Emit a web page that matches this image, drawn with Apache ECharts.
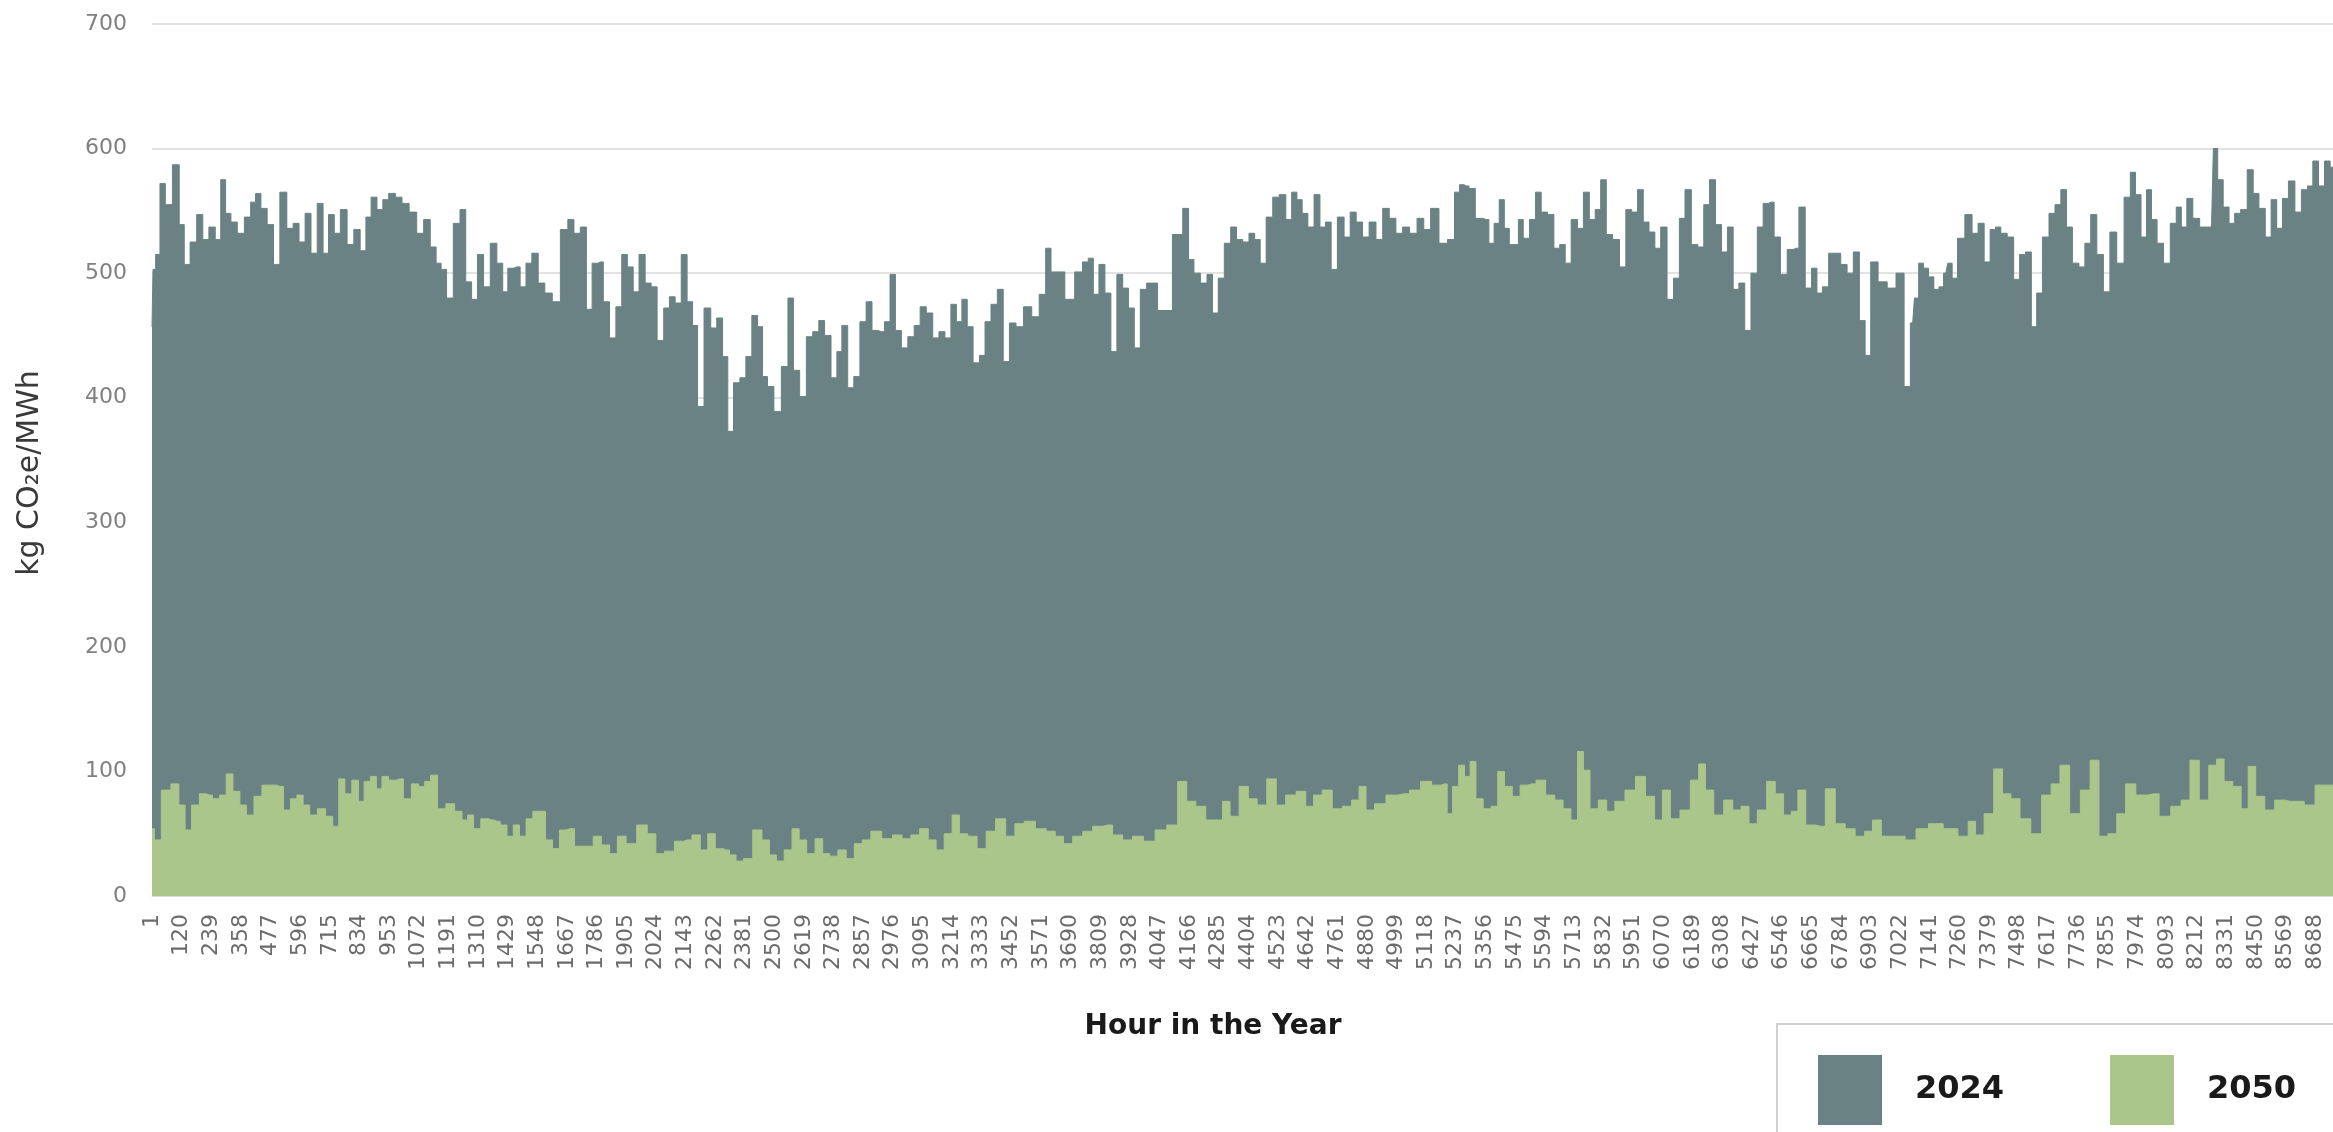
<!DOCTYPE html>
<html>
<head>
<meta charset="utf-8">
<script src="https://cdn.jsdelivr.net/npm/echarts@6/dist/echarts.min.js"></script>
<style>
  html, body { margin: 0; padding: 0; background: #ffffff; }
  #chart { width: 2333px; height: 1132px; }
</style>
</head>
<body>
<div id="chart"></div>
<script>
// Hour of the year (0-based) and emission intensity, kg CO2e/MWh
const hours2024 = [
  0,8,21,43,64,100,119,140,166,193, 215,242,266,286,305,329,356,386,406,426,
  449,476,500,527,556,578,603,627,650,677, 697,721,743,770,797,824,848,870,890,917,
  937,964,991,1017,1048,1078,1104,1131,1151,1171, 1195,1225,1249,1271,1296,1318,1345,1372,1398,1419,
  1439,1465,1492,1512,1539,1563,1592,1623,1657,1683, 1706,1734,
  1755,1780,1801,1824,1851,1875,1898,1920,1945,1967, 1994,2015,2042,2068,2088,2114,2137,2161,2181,2201,
  2233,2255,2281,2302,2323,2348,2374,2396,2422,2442, 2462,2482,2513,2542,2566,2586,2616,2640,2667,2689,
  2713,2741,2760,2781,2807,2830,2856,2880,2903,2929, 2954,2974,2997,3022,3049,3073,3097,3122,3149,3172,
  3197,3220,3241,3264,3284,3311,3335,3356,3383,3407, 3430,3457,3483,
  3517,3549,3577,3601,3620,3645,3687,3724,3750,3770, 3791,3815,3839,3863,3887,3910,3933,3957,3981,4008,
  4069,4127,4152,4174,4195,4226,4248,4270,4294,4319, 4345,4366,4394,4417,4440,4461,4488,4514,4540,4567,
  4587,4609,4629,4655,4679,4702,4724,4747,4774,4801, 4823,4849,4874,4902,4929,4956,4982,5009,5036,5065,
  5096,5119,5151,5186,5220,5242,
  5260,5278,5300,5329,5359,5379,5401,5420,5442,5460, 5479,5496,5518,5546,5567,5591,5618,5642,5665,5686,
  5713,5737,5760,5785,5807,5829,5852,5880,5907,5931, 5954,5978,6000,6024,6047,6071,6098,6123,6145,6168,
  6196,6220,6244,6266,6292,6315,6339,6361,6385,6408, 6435,6459,6482,6502,6527,6553,6581,6602,6626,6653,
  6677,6696,6721,6746,6769,6795,6820,6845,6869,6891, 6914,6950,6987,
  7021,7052,7071,7085,7105,7124,7145,7167,7186,7204, 7220,7239,7263,7298,7321,7346,7370,7394,7413,7437,
  7464,7489,7512,7536,7559,7579,7605,7632,7653,7679, 7699,7726,7751,7774,7798,7823,7851,7875,7906,7934,
  7956,7976,8000,8020,8040,8065,8092,8119,8140,8160, 8184,8208,8239,8271,8286,8306,8330,8353,8375,8401,
  8428,8449,8474,8500,8521,8545,8567,8593,8619,8645, 8668,8688,8714,8736,8759
];
const kg2024 = [
  457,503,515,572,555,587,539,507,525,547, 527,537,527,575,548,541,532,545,557,564,
  552,539,507,565,536,540,525,548,516,556, 516,547,532,551,523,535,518,545,561,551,
  559,564,561,556,549,532,543,521,508,503, 480,540,551,493,479,515,489,524,508,485,
  504,505,489,508,516,492,484,477,535,543, 532,537,
  471,508,509,477,448,473,515,505,485,515, 492,489,446,472,481,476,515,477,458,393,
  472,456,464,433,373,412,416,433,466,457, 417,409,389,425,480,422,401,449,453,462,
  450,416,437,458,408,417,461,477,454,453, 461,499,454,440,449,458,473,468,448,453,
  448,475,461,479,457,428,434,461,475,487, 429,460,457,
  473,465,483,520,501,501,479,501,509,512, 483,507,484,437,499,488,472,440,487,492,
  470,531,552,511,500,492,499,468,496,524, 537,527,525,532,527,508,545,561,563,543,
  565,559,548,537,563,537,541,503,545,529, 549,541,529,541,527,552,544,532,537,532,
  544,535,552,524,527,565,
  571,570,568,544,543,524,540,559,536,523, 523,543,528,543,565,549,547,520,523,508,
  543,536,565,543,551,575,531,527,505,551, 549,567,541,533,520,537,479,496,544,567,
  523,521,555,575,539,517,537,487,492,454, 500,537,556,557,529,499,519,520,553,488,
  504,484,489,516,516,507,500,517,462,434, 509,493,488,
  500,409,460,480,508,504,497,487,489,500, 508,496,528,547,532,540,509,535,537,532,
  529,495,515,517,457,484,529,548,555,567, 537,508,505,524,547,515,485,533,508,561,
  581,563,529,567,543,524,508,540,553,537, 560,544,537,537,600,575,553,540,548,551,
  583,564,552,529,559,536,560,574,549,567, 570,590,570,590,585
];

const hours2050 = [
  0,19,56,96,120,146,172,209,229,257, 286,310,340,366,393,426,457,487,513,543,
  570,594,620,647,681,714,738,762,787,818, 840,864,890,912,935,965,995,1024,1059,1083,
  1107,1131,1162,1198,1233,1257,1278,1305,1336,1365, 1385,1412,1439,1463,1489,1516,1543,1567,1594,1623,
  1650,1677,1717,
  1757,1787,1822,1854,1884,1924,1969,2009,2038,2078, 2118,2152,2185,2219,2245,2279,2306,2332,2359,2392,
  2433,2466,2493,2522,2556,2585,2613,2646,2680,2707, 2736,2773,2803,2838,2867,2907,2954,2994,3030,3065,
  3101,3134,3164,3199,3228,3257,3295,3332,3368,3408, 3449,3482,
  3524,3571,3611,3644,3677,3718,3758,3798,3838,3878, 3918,3958,4005,4052,4099,4139,4172,4212,4252,4286,
  4313,4346,4386,4420,4457,4497,4533,4573,4617,4650, 4680,4720,4760,4801,4834,4861,4890,4930,4981,5028,
  5072,5117,5161,5192,5211,5235,
  5260,5282,5305,5329,5363,5393,5416,5447,5479,5510, 5540,5577,5617,5650,5684,5713,5737,5760,5790,5827,
  5857,5893,5938,5978,6018,6051,6081,6115,6158,6198, 6225,6252,6292,6332,6365,6399,6428,6466,6503,6535,
  6570,6597,6623,6660,6700,6740,6780,6820,6860,6896, 6923,6967,
  7021,7061,7108,7161,7226,7279,7309,7338,7378,7415, 7449,7482,7522,7569,7609,7645,7680,7723,7766,7801,
  7837,7873,7908,7944,7990,8037,8084,8131,8167,8202, 8242,8278,8305,8338,8375,8405,8432,8465,8505,8545,
  8585,8625,8662,8712,8759
];
const kg2050 = [
  54,45,85,90,73,53,73,82,81,78, 81,98,84,73,65,80,89,89,88,69,
  78,81,73,65,70,64,56,94,82,93, 76,92,96,86,96,93,94,78,90,88,
  92,97,70,74,68,61,65,54,62,61, 60,57,48,57,48,62,68,68,45,38,
  53,54,40,
  40,48,41,34,48,42,57,50,34,36, 44,45,49,37,50,38,37,33,28,30,
  53,45,33,28,37,54,45,34,46,34, 32,37,30,42,45,52,46,49,46,49,
  54,45,37,50,65,50,48,38,52,62, 48,58,
  60,54,52,48,42,48,52,56,57,49, 45,48,44,53,57,92,76,72,61,61,
  76,64,88,78,73,94,73,81,84,72, 81,85,70,72,77,88,69,74,81,82,
  85,92,89,90,66,88,
  105,96,108,78,70,72,100,88,80,89, 90,93,81,77,70,61,116,101,70,77,
  68,76,85,96,80,61,85,62,69,93, 106,85,65,77,69,72,58,69,92,82,
  65,68,85,57,56,86,58,54,48,52, 61,48,
  48,45,54,58,54,48,60,49,66,102, 82,78,62,50,81,90,105,66,85,109,
  48,50,66,90,81,82,64,72,77,109, 77,105,110,92,88,70,104,80,69,77,
  76,76,73,89,89
];

const seriesNames = ['2024', '2050'];
const hourStep = 119;     // spacing of the hour labels on the x axis
const yearHours = 8759;   // last hour index of the year

const COLOR_2024 = '#6a8283';
const COLOR_2050 = '#aac68b';
const FONT = '"DejaVu Sans", Verdana, sans-serif';

const toPairs = (h, v) => h.map((x, i) => [x, v[i]]);

const chart = echarts.init(document.getElementById('chart'), null, { renderer: 'canvas' });

const option = {
  animation: false,
  backgroundColor: '#ffffff',
  grid: { left: 152, right: -6, top: 24, bottom: 236, containLabel: false },
  xAxis: {
    type: 'value',
    min: 0,
    max: yearHours,
    interval: hourStep,
    splitLine: { show: false },
    axisTick: { show: false },
    axisLine: { show: true, lineStyle: { color: '#d9d9d9', width: 1.5 } },
    axisLabel: {
      rotate: 90,
      margin: 18,
      fontSize: 22,
      fontFamily: FONT,
      color: '#6b6b6b',
      showMaxLabel: false,
      formatter: v => (v % hourStep === 0 ? String(v + 1) : '')
    }
  },
  yAxis: {
    type: 'value',
    min: 0,
    max: 700,
    interval: 100,
    axisLine: { show: false },
    axisTick: { show: false },
    splitLine: { show: true, lineStyle: { color: '#d9d9d9', width: 1.5 } },
    axisLabel: { margin: 25, fontSize: 22, fontFamily: FONT, color: '#808080' }
  },
  legend: {
    data: seriesNames,
    left: 1818,
    top: 1055,
    orient: 'horizontal',
    icon: 'rect',
    itemWidth: 64,
    itemHeight: 70,
    itemGap: 106,
    padding: 0,
    width: 600,
    itemStyle: { borderWidth: 0 },
    textStyle: {
      fontSize: 32,
      fontWeight: 'bold',
      fontFamily: FONT,
      color: '#1a1a1a',
      padding: [0, 0, 0, 28]
    }
  },
  series: [
    {
      name: seriesNames[0],
      type: 'line',
      step: 'middle',
      data: toPairs(hours2024, kg2024),
      symbol: 'none',
      showSymbol: false,
      lineStyle: { width: 1, color: COLOR_2024 },
      itemStyle: { color: COLOR_2024 },
      areaStyle: { color: COLOR_2024, opacity: 1 },
      z: 2
    },
    {
      name: seriesNames[1],
      type: 'line',
      step: 'middle',
      data: toPairs(hours2050, kg2050),
      symbol: 'none',
      showSymbol: false,
      lineStyle: { width: 1, color: COLOR_2050 },
      itemStyle: { color: COLOR_2050 },
      areaStyle: { color: COLOR_2050, opacity: 1 },
      z: 3
    }
  ],
  graphic: [
    {
      // frame around the legend, running off the lower right corner
      type: 'rect',
      z: -1,
      shape: { x: 1777, y: 1024, width: 700, height: 200 },
      style: { fill: '#ffffff', stroke: '#d0d0d0', lineWidth: 2 }
    },
    {
      type: 'text',
      x: 30,
      y: 473,
      rotation: Math.PI / 2,
      style: {
        text: 'kg CO₂e/MWh',
        font: '30px ' + FONT,
        fill: '#3a3a3a',
        align: 'center',
        verticalAlign: 'middle'
      }
    },
    {
      type: 'text',
      x: 1213,
      y: 1027,
      style: {
        text: 'Hour in the Year',
        font: 'bold 28px ' + FONT,
        fill: '#1a1a1a',
        align: 'center',
        verticalAlign: 'middle'
      }
    }
  ]
};

chart.setOption(option);
</script>
</body>
</html>
